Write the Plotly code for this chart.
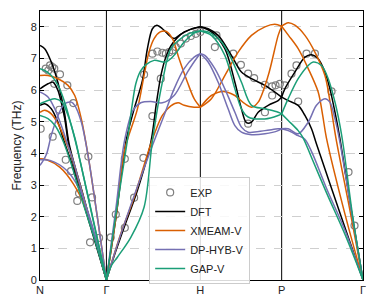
import plotly.graph_objects as go

# high-symmetry path positions (2pi/a units) and labels
K_TICKS = [0.0, 0.7071, 1.7071, 2.5731, 3.4392]
K_LABELS = ["N", "Γ", "H", "P", "Γ"]

# experimental points
EXP_K = [0.007, 0.061, 0.088, 0.107, 0.131, 0.152, 0.213, 0.291, 0.152, 0.355, 0.206, 0.135,
         0.274, 0.330, 0.515, 0.416, 0.554, 0.397, 0.533, 0.629,
         0.753, 0.807, 0.903, 0.903, 1.002, 1.101, 1.108, 1.197, 1.286, 1.197, 1.25, 1.303,
         1.34, 1.375, 1.41, 1.446, 1.499, 1.553, 1.606, 1.659, 1.707,
         1.879, 1.862, 2.058, 2.139, 2.216, 2.28, 2.395, 2.472, 2.508, 2.554, 2.472, 2.395, 2.216,
         2.607, 2.678, 2.731, 2.838, 2.927, 2.749, 3.104, 3.285, 3.349]
EXP_F = [4.78, 6.68, 6.62, 6.78, 6.73, 6.68, 6.5, 6.15, 6.2, 5.59, 5.38, 4.53,
         3.8, 3.44, 3.9, 2.74, 2.61, 2.5, 1.19, 1.33,
         1.35, 2.07, 3.83, 1.65, 2.6, 3.86, 6.49, 5.18, 6.36, 7.15, 7.22, 7.18,
         7.15, 7.2, 7.26, 7.36, 7.47, 7.63, 7.71, 7.78, 7.84,
         7.73, 7.36, 7.15, 6.8, 6.52, 6.38, 6.17, 6.12, 6.15, 6.2, 5.83, 5.3, 4.94,
         6.15, 6.52, 6.78, 7.15, 7.15, 5.64, 5.96, 3.41, 1.72]

# DFT branches: (k, frequency)
DFT = [
    ([0, 0.05, 0.12, 0.19, 0.26, 0.31, 0.45, 0.58, 0.7071], [7.41, 7.31, 6.89, 6.25, 5.3, 4.3, 2.78, 1.38, 0]),
    ([0, 0.085, 0.139, 0.19, 0.26, 0.31, 0.45, 0.58, 0.7071], [6.04, 6.2, 6.25, 6.0, 5.15, 4.2, 2.72, 1.35, 0]),
    ([0, 0.05, 0.12, 0.19, 0.26, 0.33, 0.45, 0.58, 0.7071], [5.52, 5.57, 5.41, 4.99, 4.35, 3.75, 2.56, 1.26, 0]),
    ([0.7071, 0.81, 0.917, 1.002, 1.09, 1.143, 1.197, 1.244, 1.303, 1.375, 1.428, 1.492, 1.6, 1.7071],
     [0, 2.0, 4.4, 5.4, 6.3, 7.3, 7.94, 8.05, 7.94, 7.73, 7.63, 7.75, 7.92, 8.0]),
    ([0.7071, 0.80, 0.895, 1.037, 1.18, 1.24, 1.29, 1.34, 1.393, 1.46, 1.535, 1.64, 1.7071],
     [0, 0.85, 1.66, 2.83, 4.35, 5.6, 6.5, 7.05, 7.4, 7.65, 7.84, 7.95, 8.0]),
    ([1.7071, 1.79, 1.897, 2.038, 2.145, 2.252, 2.395, 2.501, 2.5731], [8.0, 7.94, 7.73, 7.1, 6.57, 6.36, 6.15, 5.94, 5.78]),
    ([1.7071, 1.825, 1.968, 2.075, 2.145, 2.198, 2.252, 2.323, 2.43, 2.536, 2.5731],
     [8.0, 7.84, 7.31, 6.25, 5.41, 4.97, 4.99, 5.3, 5.52, 5.67, 5.78]),
    ([2.5731, 2.607, 2.714, 2.821, 2.891, 2.962, 3.034, 3.087, 3.141, 3.194, 3.32, 3.4392],
     [5.78, 6.04, 6.57, 7.04, 7.12, 6.99, 6.57, 6.04, 5.3, 4.46, 2.1, 0]),
    ([2.5731, 2.643, 2.749, 2.821, 2.891, 2.944, 3.19, 3.4392], [5.78, 5.67, 5.52, 5.2, 4.78, 4.3, 2.15, 0]),
]

XMEAM = [
    ([0, 0.085, 0.192, 0.298, 0.37, 0.44, 0.512, 0.61, 0.7071], [6.46, 6.46, 6.36, 6.15, 5.83, 5.09, 3.93, 2.0, 0]),
    ([0, 0.05, 0.12, 0.192, 0.263, 0.334, 0.45, 0.58, 0.7071], [5.3, 5.36, 5.25, 4.94, 4.46, 3.93, 2.75, 1.38, 0]),
    ([0, 0.071, 0.213, 0.355, 0.498, 0.60, 0.7071], [3.83, 3.8, 3.56, 3.04, 2.2, 1.2, 0]),
    ([0.7071, 0.81, 0.90, 1.037, 1.108, 1.16, 1.215, 1.28, 1.34, 1.41, 1.481, 1.57, 1.641, 1.7071],
     [0, 2.0, 4.1, 5.4, 6.46, 7.2, 7.63, 7.84, 7.86, 7.63, 6.99, 6.25, 5.73, 5.46]),
    ([0.7071, 0.86, 1.002, 1.18, 1.303, 1.393, 1.47, 1.535, 1.641, 1.7071],
     [0, 1.46, 2.61, 4.3, 5.2, 5.5, 5.6, 5.52, 5.46, 5.46]),
    ([1.7071, 1.825, 1.968, 2.11, 2.252, 2.395, 2.5, 2.5731], [5.46, 5.73, 6.46, 7.2, 7.73, 8.0, 8.08, 8.02]),
    ([1.7071, 1.825, 1.95, 2.075, 2.181, 2.252, 2.323, 2.43, 2.536, 2.5731],
     [5.46, 5.83, 5.96, 5.83, 5.57, 5.46, 5.62, 6.46, 7.73, 8.02]),
    ([2.5731, 2.643, 2.714, 2.821, 2.927, 3.034, 3.09, 3.15, 3.30, 3.4392],
     [8.02, 8.13, 8.05, 7.73, 7.2, 6.46, 5.6, 4.5, 2.2, 0]),
    ([2.5731, 2.646, 2.749, 2.856, 2.962, 3.01, 3.049, 3.25, 3.4392], [8.02, 7.73, 7.31, 6.68, 5.94, 5.2, 4.5, 2.05, 0]),
]

DPHYB = [
    ([0, 0.085, 0.157, 0.227, 0.298, 0.352, 0.5, 0.6, 0.7071], [5.94, 5.78, 5.41, 4.88, 4.25, 3.78, 2.2, 1.15, 0]),
    ([0, 0.035, 0.071, 0.12, 0.192, 0.263, 0.334, 0.37, 0.44, 0.512, 0.61, 0.7071],
     [3.62, 3.78, 3.99, 4.57, 5.2, 5.57, 5.62, 5.52, 4.99, 3.93, 2.0, 0]),
    ([0, 0.107, 0.285, 0.426, 0.568, 0.7071], [3.8, 3.78, 3.46, 2.83, 1.6, 0]),
    ([0.7071, 0.81, 0.90, 0.99, 1.073, 1.18, 1.303, 1.428, 1.57, 1.676, 1.7071],
     [0, 2.3, 4.4, 5.36, 5.6, 5.64, 5.6, 5.83, 6.57, 7.04, 7.15]),
    ([0.7071, 0.80, 0.895, 1.037, 1.197, 1.321, 1.428, 1.535, 1.641, 1.7071],
     [0, 0.9, 1.75, 2.95, 4.25, 5.2, 6.04, 6.68, 7.04, 7.15]),
    ([1.7071, 1.755, 1.862, 1.968, 2.075, 2.145, 2.216, 2.395, 2.536, 2.5731],
     [7.15, 7.1, 6.68, 6.04, 5.3, 4.83, 4.67, 4.72, 4.78, 4.78]),
    ([1.7071, 1.79, 1.897, 2.003, 2.075, 2.145, 2.252, 2.395, 2.536, 2.5731],
     [7.15, 6.89, 6.25, 5.41, 4.88, 4.67, 4.59, 4.62, 4.72, 4.78]),
    ([2.5731, 2.643, 2.749, 2.856, 2.944, 3.034, 3.087, 3.141, 3.194, 3.32, 3.4392],
     [4.78, 4.78, 4.62, 4.99, 5.52, 5.73, 5.62, 5.09, 4.35, 2.1, 0]),
    ([2.5731, 2.643, 2.749, 2.82, 2.9, 3.05, 3.25, 3.4392], [4.78, 4.72, 4.56, 4.45, 4.0, 2.9, 1.55, 0]),
]

GAP = [
    ([0, 0.05, 0.12, 0.192, 0.263, 0.334, 0.405, 0.55, 0.7071], [6.68, 6.62, 6.46, 6.15, 5.62, 4.88, 4.04, 2.1, 0]),
    ([0, 0.085, 0.16, 0.234, 0.298, 0.373, 0.426, 0.56, 0.7071], [5.57, 5.67, 5.73, 5.62, 5.2, 4.47, 3.78, 2.0, 0]),
    ([0, 0.085, 0.16, 0.234, 0.32, 0.45, 0.58, 0.7071], [5.2, 5.1, 4.88, 4.47, 3.78, 2.5, 1.3, 0]),
    ([0.7071, 0.82, 0.93, 0.98, 1.02, 1.07, 1.126, 1.215, 1.34, 1.428, 1.535, 1.641, 1.7071],
     [0, 2.3, 4.4, 5.5, 6.2, 6.6, 6.8, 6.94, 6.89, 7.1, 7.52, 7.8, 7.87]),
    ([0.7071, 0.76, 0.824, 0.967, 1.108, 1.197, 1.303, 1.393, 1.5, 1.6, 1.7071],
     [0, 0.45, 0.72, 1.35, 2.3, 4.4, 6.25, 7.31, 7.63, 7.8, 7.87]),
    ([1.7071, 1.79, 1.932, 2.038, 2.145, 2.252, 2.395, 2.536, 2.5731], [7.87, 7.84, 7.52, 6.99, 6.25, 5.52, 5.41, 5.3, 5.25]),
    ([1.7071, 1.825, 1.968, 2.075, 2.145, 2.216, 2.395, 2.536, 2.5731], [7.87, 7.73, 7.1, 6.04, 5.41, 5.15, 5.09, 5.2, 5.25]),
    ([2.5731, 2.643, 2.749, 2.856, 2.909, 2.998, 3.069, 3.141, 3.194, 3.229, 3.33, 3.4392],
     [5.25, 5.73, 6.36, 6.78, 6.89, 6.78, 6.36, 5.62, 4.88, 4.25, 2.0, 0]),
    ([2.5731, 2.643, 2.749, 2.8, 2.88, 3.05, 3.25, 3.4392], [5.25, 5.04, 4.72, 4.5, 3.95, 2.76, 1.42, 0]),
]

MODELS = [("DFT", DFT, "#000000"), ("XMEAM-V", XMEAM, "#d95f02"),
          ("DP-HYB-V", DPHYB, "#7570b3"), ("GAP-V", GAP, "#1b9e77")]

FONT = "Liberation Sans, Arial, sans-serif"

fig = go.Figure()
fig.add_trace(go.Scatter(x=EXP_K, y=EXP_F, mode="markers", name="EXP",
                         marker=dict(symbol="circle-open", size=7, color="#808080", line=dict(width=1.2))))

for name, branches, color in MODELS:
    xs, ys = [], []
    for k, f in branches:
        xs += list(k) + [None]
        ys += list(f) + [None]
    fig.add_trace(go.Scatter(x=xs, y=ys, mode="lines", name=name, connectgaps=False,
                             line=dict(color=color, width=1.5, shape="spline", smoothing=0.9)))

for k in K_TICKS[1:-1]:
    fig.add_vline(x=k, line=dict(color="black", width=1), layer="below")

# page body adds an 8px margin, so the figure is sized to fit the 374x298 window
fig.update_layout(
    width=366, height=290, autosize=False,
    margin=dict(l=32, r=11, t=3, b=18, pad=0, autoexpand=False),
    paper_bgcolor="white", plot_bgcolor="white",
    font=dict(family=FONT, size=11, color="#222222"),
    showlegend=True,
    legend=dict(x=0.338, y=0.383, xanchor="left", yanchor="top",
                bgcolor="rgba(255,255,255,0.85)", bordercolor="#cccccc", borderwidth=1,
                font=dict(size=11, color="#222222"), tracegroupgap=0, itemwidth=30),
)
fig.update_xaxes(range=[K_TICKS[0], K_TICKS[-1]], tickvals=K_TICKS, ticktext=K_LABELS,
                 showgrid=False, zeroline=False, showline=True, linecolor="black", linewidth=1,
                 mirror=True, ticks="", automargin=False, tickfont=dict(size=11, color="#222222"))
fig.update_yaxes(range=[0, 8.5], tickvals=list(range(0, 9)), showgrid=True, gridcolor="#cfcfcf",
                 griddash="dash", gridwidth=0.8, zeroline=False, showline=True, linecolor="black",
                 linewidth=1, mirror="ticks", ticks="inside", ticklen=4, tickcolor="black",
                 automargin=False,
                 title=dict(text="Frequency (THz)", font=dict(size=12, color="#222222"), standoff=6),
                 tickfont=dict(size=11, color="#222222"))

fig.write_html("out.html")
